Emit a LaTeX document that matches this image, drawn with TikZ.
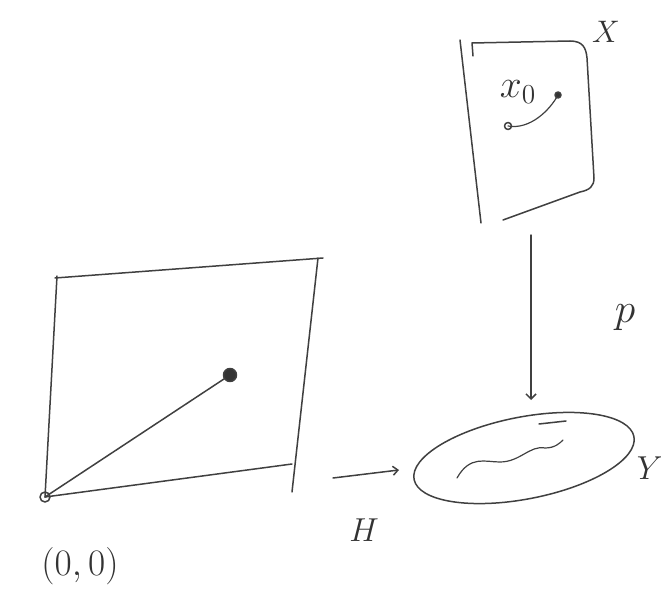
\documentclass[tikz,border=0pt]{standalone}
\usetikzlibrary{arrows.meta,shapes.geometric}
\begin{document}
\begin{tikzpicture}[x=1pt,y=-1pt,
  pen/.style={line width=1.5pt, draw=black!75, line cap=round, line join=round},
  lbl/.style={text=black!80, inner sep=0pt, font=\huge}]
\useasboundingbox (0,0) rectangle (661,596);
% left square
\coordinate (O) at (45,497);
\coordinate (P) at (230,375);
\draw[pen] (57,276) -- (45,497);
\draw[pen] (55,278) -- (323,258);
\draw[pen] (318,258) -- (292,492);
\draw[pen] (O) -- (292,464);
\draw[pen] (O) -- (P);
\node[pen, circle, fill=black!80, inner sep=0pt, minimum size=13pt] (dot) at (P) {};
\node[pen, circle, inner sep=0pt, minimum size=10pt] (orig) at (O) {};
\node[lbl, scale=1.8] (origlabel) at (80,566) {$(0,0)$};
% H arrow
\coordinate (ha) at (333,478);
\coordinate (hb) at (399,470);
\draw[pen, -{Straight Barb[length=5pt,width=9pt]}] (ha) -- (hb);
\node[lbl, scale=1.6] (H) at (364,530) {$H$};
% ellipse Y
\node[pen, ellipse, draw, minimum width=224pt, minimum height=82pt, rotate=11] (Yell) at (524,458) {};
\draw[pen, line width=1.2pt] (457,478) .. controls (470,455) and (485,462) .. (500,462)
   .. controls (520,462) and (530,445) .. (545,448) .. controls (555,448) and (560,443) .. (563,440);
\draw[pen] (539,424) -- (566,421);
\node[lbl, scale=1.6] (Y) at (650,468) {$Y$};
% X box
\draw[pen] (460,40) -- (481,223);
\draw[pen] (473,56) -- (472,43) -- (570,41) .. controls (583,41) and (586,48) .. (587,58)
   -- (594,178) .. controls (594,186) and (590,190) .. (580,192) -- (503,220);
\node[lbl, scale=1.5] (X) at (606,32) {$X$};
\node[lbl, scale=1.9] (x0) at (518,92) {$x_0$};
\coordinate (c1) at (508,126);
\coordinate (c2) at (558,95);
\draw[pen, line width=1.2pt] (c1) .. controls (530,130) and (550,110) .. (c2);
\node[pen, circle, inner sep=0pt, minimum size=7pt] (d1) at (c1) {};
\node[pen, circle, fill=black!80, inner sep=0pt, minimum size=6pt] (d2) at (c2) {};
% p arrow
\coordinate (pa) at (531,235);
\coordinate (pb) at (531,400);
\draw[pen, -{Straight Barb[length=5pt,width=10pt]}] (pa) -- (pb);
\node[lbl, scale=2] (p) at (625,318) {$p$};
\end{tikzpicture}
\end{document}
